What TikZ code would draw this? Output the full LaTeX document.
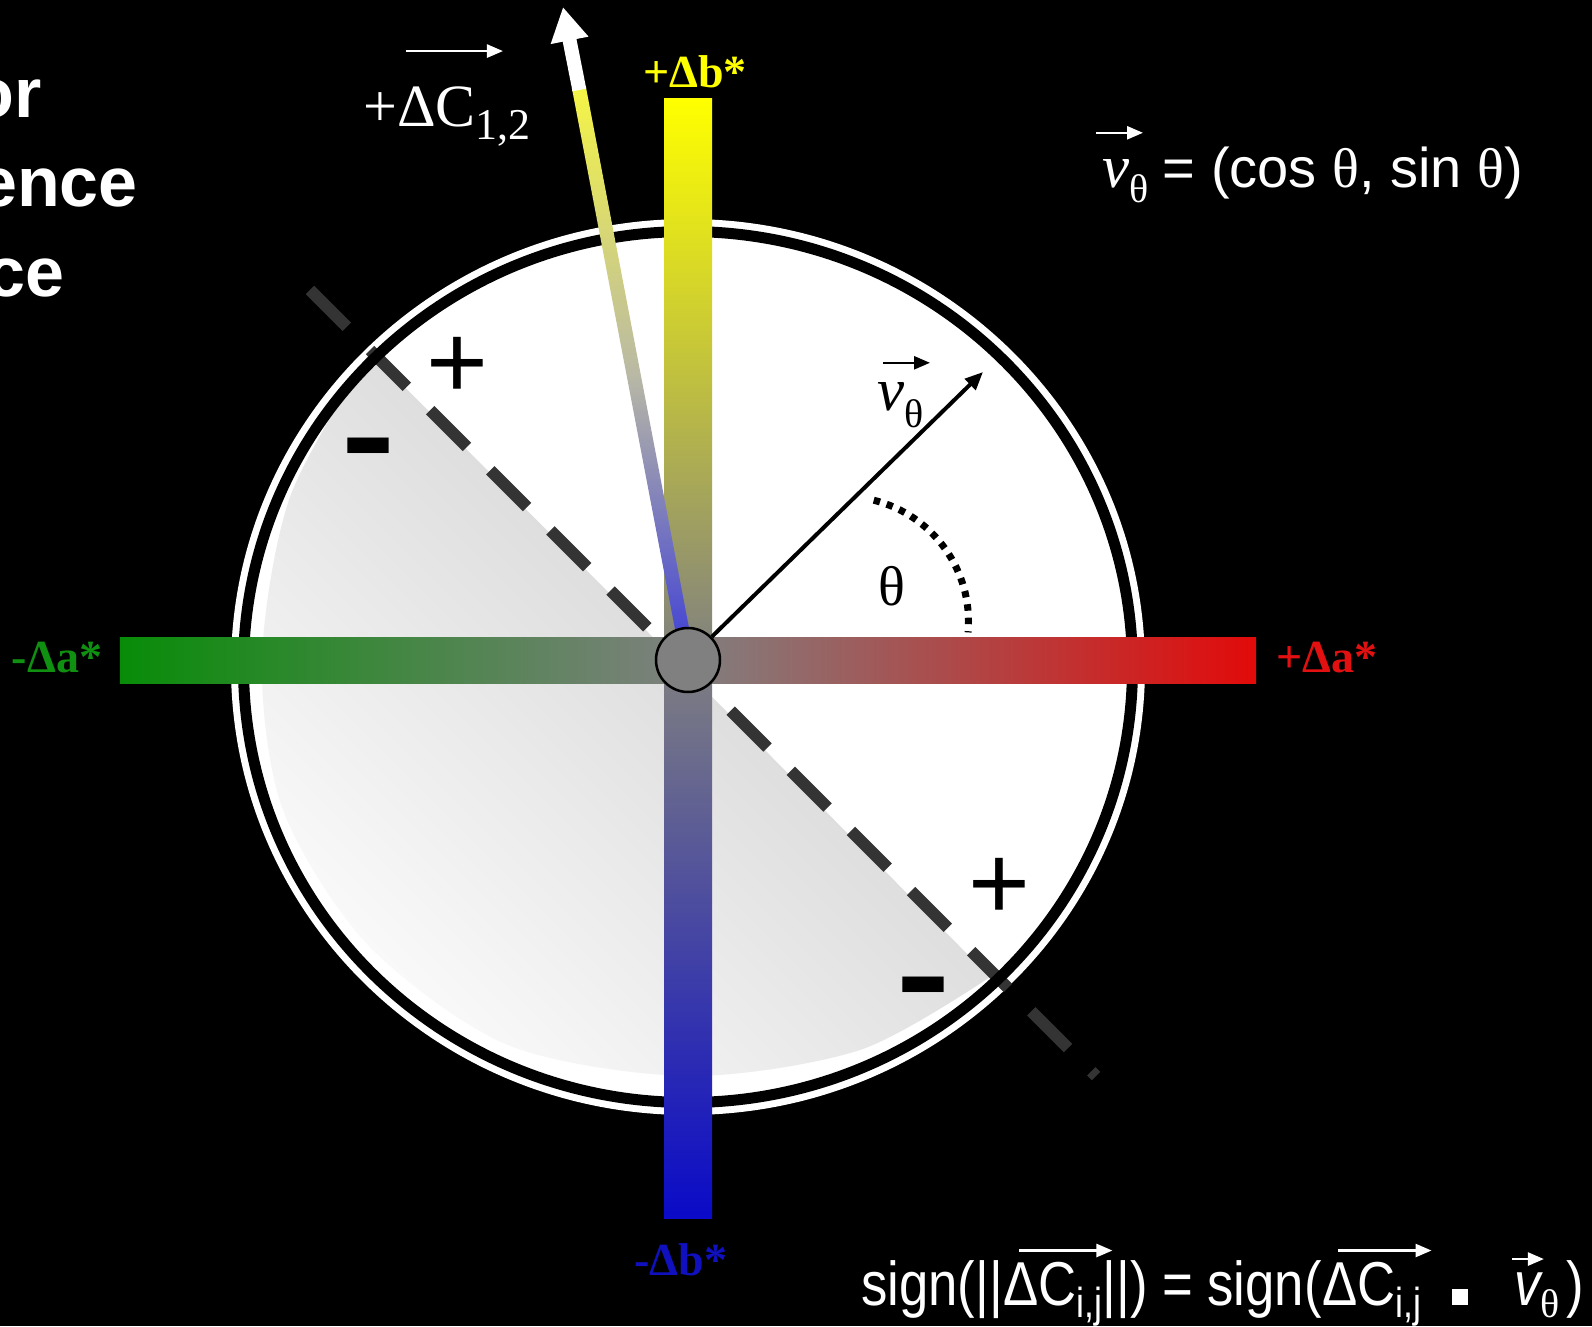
\documentclass[tikz,border=0pt]{standalone}
\usepackage{fontspec}
\setmainfont{Liberation Serif}
\newfontfamily\arialfont{Liberation Sans}
\newfontfamily\formfont[FakeStretch=0.85]{Liberation Sans}
\usetikzlibrary{positioning,calc,arrows.meta}

\definecolor{axisyellow}{RGB}{255,255,0}
\definecolor{axisgreen}{RGB}{8,140,8}
\definecolor{axisred}{RGB}{226,10,10}
\definecolor{axisblue}{RGB}{10,10,200}
\definecolor{axisgray}{RGB}{128,128,128}
\definecolor{labelgreen}{RGB}{16,144,16}
\definecolor{labelred}{RGB}{226,16,16}
\definecolor{labelblue}{RGB}{16,16,190}
\definecolor{dashgray}{RGB}{52,52,52}
\definecolor{dcyellow}{RGB}{245,245,70}
\definecolor{dcmiddle}{RGB}{185,185,165}
\definecolor{dcblue}{RGB}{60,60,215}

\tikzset{
  axislabel/.style={inner sep=0pt, anchor=base, font=\fontsize{46}{48}\selectfont\bfseries},
  signtext/.style={inner sep=0pt, font=\arialfont\fontsize{106}{106}\selectfont},
  minustext/.style={inner sep=0pt, font=\arialfont\bfseries\fontsize{130}{130}\selectfont},
  titletext/.style={inner sep=0pt, anchor=base east, text=white, font=\arialfont\bfseries\fontsize{70}{80}\selectfont},
  formula/.style={inner sep=0pt, text=white, font=\formfont\fontsize{62}{64}\selectfont},
  vecarrow/.style={line width=2.5pt, -{Triangle[length=16pt,width=13pt]}},
  dashline/.style={dashgray, line width=12pt, dash pattern=on 52pt off 33pt},
  thetadots/.style={black, line width=7pt, dash pattern=on 6.5pt off 7pt},
}

\begin{document}
\begin{tikzpicture}[x=1pt,y=1pt]
  \useasboundingbox (-688,-666) rectangle (904,660);
  \fill[black] (-688,-666) rectangle (904,660);

  % Title, cut by the left edge
  \begin{scope}
    \clip (-688,-666) rectangle (904,660);
    \node[titletext] (title1) at (-646,542) {or};
    \node[titletext] (title2) at (-550,453) {ence};
    \node[titletext] (title3) at (-623,363) {ce};
  \end{scope}

  % Disc with the shaded half plane
  \fill[white] (0,-7) ellipse [x radius=457, y radius=448];
  \shade[top color=black!20, bottom color=black!2, shading angle=-45]
    plot[smooth] coordinates {(-318,308) (-398,163) (-426,0) (-405,-150) (-320,-285) (-180,-385) (0,-416) (172,-390) (302,-317)} -- cycle;
  \coordinate (dl1) at (-378,370);
  \coordinate (dl2) at (408,-416);
  \draw[dashline] (dl1) -- (dl2);
  \draw[black, line width=11pt] (0,-7) ellipse [x radius=444.5, y radius=435.5];

  % a* and b* axes
  \shade[top color=axisyellow, bottom color=axisblue, middle color=axisgray] (-24,-558) rectangle (24,561);
  \shade[left color=axisgreen, right color=axisred, middle color=axisgray] (-568,-23) rectangle (568,23);
  \node[axislabel, text=axisyellow] (bplus) at (7,572) {+Δb*};
  \node[axislabel, text=labelblue] (bminus) at (-7,-615) {-Δb*};
  \node[axislabel, text=labelgreen] (aminus) at (-631,-12) {-Δa*};
  \node[axislabel, text=labelred] (aplus) at (639,-12) {+Δa*};

  % Colour difference vector
  \coordinate (o) at (0,0);
  \coordinate (dcmid) at (-109,572);
  \coordinate (dctip) at (-125,653);
  \shade[top color=dcyellow, bottom color=dcblue, middle color=dcmiddle]
    ($(o)!7pt!90:(dcmid)$) -- ($(dcmid)!7pt!-90:(o)$) -- ($(dcmid)!7pt!90:(o)$) -- ($(o)!7pt!-90:(dcmid)$) -- cycle;
  \draw[white, line width=14pt, -{Triangle[length=34pt,width=36pt]}] ($(dcmid)!2pt!(o)$) -- (dctip);
  \node[inner sep=0pt, anchor=base west, text=white, font=\fontsize{60}{62}\selectfont] (dclabel) at (-325,533)
    {+ΔC\raisebox{-13pt}{\fontsize{44}{44}\selectfont 1,2}};
  \draw[vecarrow, white] ([shift={(43,36)}]dclabel.north west) -- ++(97,0);

  % Centre and unit vector
  \node[circle, draw=black, line width=2.5pt, fill=axisgray, minimum size=64pt, inner sep=0pt] (ctr) at (o) {};
  \coordinate (vtip) at (295,288);
  \draw[black, line width=4pt, -{Triangle[length=18pt,width=15pt]}] (ctr) -- (vtip);
  \node[inner sep=0pt, anchor=base west, font=\fontsize{61}{61}\selectfont] (vlabel) at (189,250)
    {\itshape v\upshape\raisebox{-17pt}{\fontsize{40}{40}\selectfont θ}};
  \draw[vecarrow, black] ([shift={(6,19)}]vlabel.north west) -- ++(47,0);

  % Angle theta
  \coordinate (arcc) at (155.5,38.5);
  \draw[thetadots] ([shift={(76:125)}]arcc) arc[start angle=76, end angle=-5, radius=125];
  \node[inner sep=0pt, font=\fontsize{56}{56}\selectfont] (theta) at (204,74) {θ};

  % Signs of the two half planes
  \node[signtext] (plus1) at (-231,292) {+};
  \node[signtext] (plus2) at (311,-229) {+};
  \node[minustext] (minus1) at (-319.5,201.5) {\scalebox{1.25}[1]{-}};
  \node[minustext] (minus2) at (236,-338) {\scalebox{1.25}[1]{-}};

  % Unit vector definition
  \node[inner sep=0pt, anchor=base west, text=white, font=\fontsize{61}{61}\selectfont] (vform) at (414,472)
    {\itshape v\upshape\raisebox{-15pt}{\fontsize{40}{40}\selectfont θ}};
  \node[inner sep=0pt, text=white, font=\arialfont\fontsize{56}{58}\selectfont, base right=14pt of vform] (vformeq)
    {= (cos {\rmfamily θ}, sin {\rmfamily θ})};
  \draw[vecarrow, white] ([shift={(-6,27)}]vform.north west) -- ++(47,0);

  % Sign rule
  \node[formula, anchor=base west] (sign1) at (173,-645) {sign(||};
  \node[formula, base right=0pt of sign1] (dcij1) {ΔC\raisebox{-12pt}{\fontsize{42}{42}\selectfont i,j}};
  \node[formula, base right=0pt of dcij1] (sign2) {||) = sign(};
  \node[formula, base right=0pt of sign2] (dcij2) {ΔC\raisebox{-12pt}{\fontsize{42}{42}\selectfont i,j}};
  \node[formula, base right=30pt of dcij2] (dotop) {\rule{16pt}{16pt}};
  \node[formula, base right=46pt of dotop] (vij) {\itshape v\upshape\raisebox{-12pt}{\fontsize{40}{40}\selectfont\rmfamily θ}};
  \node[formula, base right=6pt of vij] (sign3) {)};
  \draw[vecarrow, white] ([shift={(16,11)}]dcij1.north west) -- ([shift={(10,11)}]dcij1.north east);
  \draw[vecarrow, white] ([shift={(16,11)}]dcij2.north west) -- ([shift={(10,11)}]dcij2.north east);
  \draw[vecarrow, white] ([shift={(-2,13)}]vij.north west) -- ++(32,0);
\end{tikzpicture}
\end{document}
